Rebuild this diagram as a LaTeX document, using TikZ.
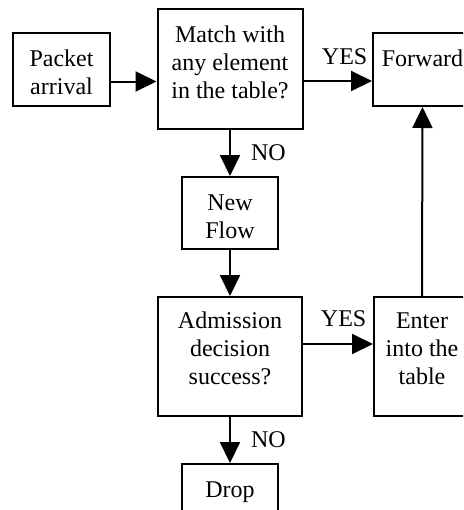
\documentclass[tikz,border=0pt]{standalone}
\usepackage{fontspec}
\setmainfont{Liberation Serif}
\usetikzlibrary{arrows.meta,positioning}
\tikzset{flow box/.style n args={3}{
    draw, line width=1pt,
    minimum width=#1,
    align=center,
    inner sep=0pt,
    text height=#2,
    text depth=#3,
    font=\fontsize{12}{14}\selectfont
  },
  flow arrow/.style={draw, line width=1pt, -{Triangle[length=10.5pt,width=10pt]}},
  flow label/.style={inner sep=0pt, font=\fontsize{12}{14}\selectfont}
}

\begin{document}
\begin{tikzpicture}[x=0.5pt,y=-0.5pt]
    \useasboundingbox (0,0) rectangle (463,510);
    \clip (0,0) rectangle (463,510);
    % boxes (text height reaches from the top edge to the last baseline)
    \node[flow box={48.5pt}{30.5pt}{6pt}] (packet) at (61.5,69.5) {Packet\\arrival};
    \node[flow box={72.5pt}{44.5pt}{15.5pt}] (match) at (230,69) {Match with\\any element\\in the table?};
    \node[flow box={49.5pt}{16.5pt}{20pt}] (forward) at (422.5,69.5) {Forward};
    \node[flow box={48pt}{30.5pt}{5.5pt}] (newflow) at (230,213) {New\\Flow};
    \node[flow box={72pt}{43.5pt}{16pt}] (admission) at (230,356.5) {Admission\\decision\\success?};
    \node[flow box={48pt}{43.5pt}{16pt}] (enter) at (422,356.5) {Enter\\into the\\table};
    \node[flow box={48pt}{16.5pt}{19.5pt}] (drop) at (230,500) {Drop};
    % connectors
    \draw[flow arrow] ([yshift=-6pt]packet.east) -- ([yshift=-6pt]packet.east -| match.west);
    \draw[flow arrow] ([yshift=-6pt]match.east) -- ([yshift=-6pt]match.east -| forward.west)
        node[flow label, pos=0.6, above=7.5pt] {YES};
    \draw[flow arrow] (match.south) -- (newflow.north) node[flow label, midway, right=10pt] {NO};
    \draw[flow arrow] (newflow.south) -- (admission.north);
    \draw[flow arrow] ([yshift=6.25pt]admission.east) -- ([yshift=6.25pt]admission.east -| enter.west)
        node[flow label, pos=0.58, above=8pt] {YES};
    \draw[flow arrow] (enter.north) -- (forward.south);
    \draw[flow arrow] (admission.south) -- (drop.north) node[flow label, midway, right=10pt] {NO};
\end{tikzpicture}
\end{document}
